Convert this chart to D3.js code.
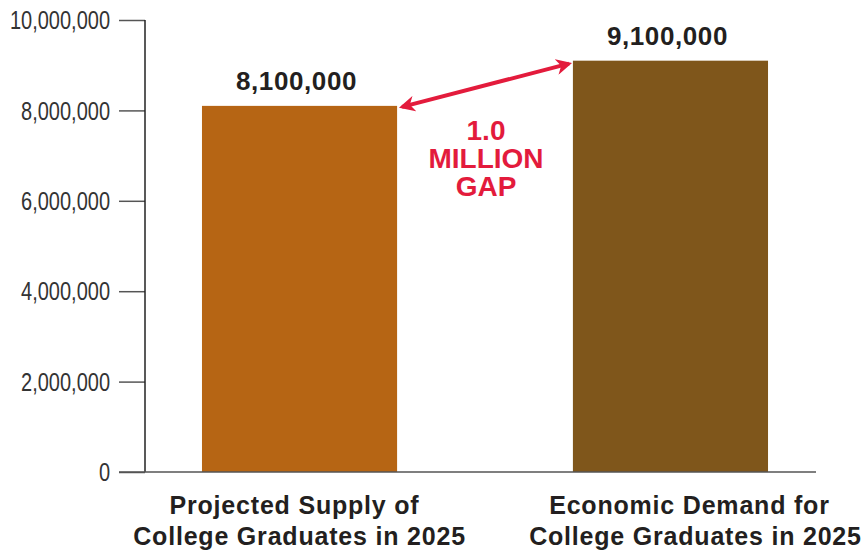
<!DOCTYPE html>
<html><head><meta charset="utf-8">
<script src="https://cdn.jsdelivr.net/npm/d3@7"></script>
<style>body{margin:0;background:#fff}svg{display:block}</style>
</head><body>
<script>
const categories = ["Projected Supply of|College Graduates in 2025", "Economic Demand for|College Graduates in 2025"];
const values = [8100000, 9100000];
const valueLabels = ["8,100,000", "9,100,000"];
const barColors = ["#B66514", "#7F561B"];
const yTicks = [0, 2000000, 4000000, 6000000, 8000000, 10000000];
const gapLines = ["1.0", "MILLION", "GAP"];

const W = 863, H = 552;
const svg = d3.select("body").append("svg").attr("width", W).attr("height", H);
const x = d3.scaleBand().domain(categories).range([145, 825]).paddingInner(0.474).paddingOuter(0.1536);
const y = d3.scaleLinear().domain([0, 10000000]).range([472, 20]);
const font = "'Liberation Sans',Arial,sans-serif";

// bars
svg.selectAll("rect.bar").data(values).join("rect")
  .attr("x", (d, i) => x(categories[i])).attr("width", x.bandwidth())
  .attr("y", d => y(d)).attr("height", d => y(0) - y(d))
  .attr("fill", (d, i) => barColors[i]);

// y axis
const sx = 0.8;
const yAxis = d3.axisLeft(y).tickValues(yTicks).tickSize(26).tickPadding(9)
  .tickFormat(d3.format(","));
const ga = svg.append("g").attr("transform", "translate(145,0)").call(yAxis);
ga.select(".domain").remove();
ga.selectAll(".tick line").attr("stroke", "#555").attr("stroke-width", 1.5);
ga.selectAll(".tick text").attr("font-family", font).attr("font-size", 25).attr("fill", "#333")
  .attr("dy", "0.35em").attr("x", -35 / sx).attr("transform", `scale(${sx},1)`);
svg.append("line").attr("x1", 145).attr("x2", 145).attr("y1", y(10000000)).attr("y2", y(0)).attr("stroke", "#222").attr("stroke-width", 1.5);
svg.append("line").attr("x1", 119).attr("x2", 816).attr("y1", y(0)).attr("y2", y(0)).attr("stroke", "#555").attr("stroke-width", 1.5);

// value labels
svg.selectAll("text.val").data(values).join("text")
  .attr("x", (d, i) => x(categories[i]) + x.bandwidth() / 2 - 3).attr("y", d => y(d) - 16)
  .attr("text-anchor", "middle").attr("font-family", font).attr("font-weight", "bold")
  .attr("font-size", 26).attr("letter-spacing", 0.6).attr("fill", "#231f20").text((d, i) => valueLabels[i]);

// category labels
const catOffsets = [[-5, 0], [19, 25]];
categories.forEach((c, i) => {
  const t = svg.append("text").attr("text-anchor", "middle").attr("font-family", font)
    .attr("font-weight", "bold").attr("font-size", 25).attr("letter-spacing", 0.8).attr("fill", "#231f20");
  c.split("|").forEach((line, j) => {
    t.append("tspan").attr("x", x(c) + x.bandwidth() / 2 + catOffsets[i][j]).attr("y", 514 + j * 31).text(line);
  });
});

// gap arrow
const red = "#E31B3C";
const defs = svg.append("defs");
defs.append("marker").attr("id", "ah").attr("viewBox", "0 0 10 10").attr("refX", 8).attr("refY", 5)
  .attr("markerWidth", 4).attr("markerHeight", 4).attr("orient", "auto-start-reverse").attr("markerUnits", "strokeWidth")
  .append("path").attr("d", "M0,0 L10,5 L0,10 L3,5 Z").attr("fill", red);
const x1 = x(categories[0]) + x.bandwidth() + 5, x2 = x(categories[1]) - 4;
svg.append("line").attr("x1", x1).attr("y1", y(values[0]) + 1).attr("x2", x2).attr("y2", y(values[1]) + 3)
  .attr("stroke", red).attr("stroke-width", 4)
  .attr("marker-start", "url(#ah)").attr("marker-end", "url(#ah)");

const gt = svg.append("text").attr("text-anchor", "middle").attr("font-family", font)
  .attr("font-weight", "bold").attr("font-size", 28).attr("fill", red);
gapLines.forEach((l, j) => gt.append("tspan").attr("x", 486).attr("y", 140 + j * 28).text(l));
</script>
</body></html>
